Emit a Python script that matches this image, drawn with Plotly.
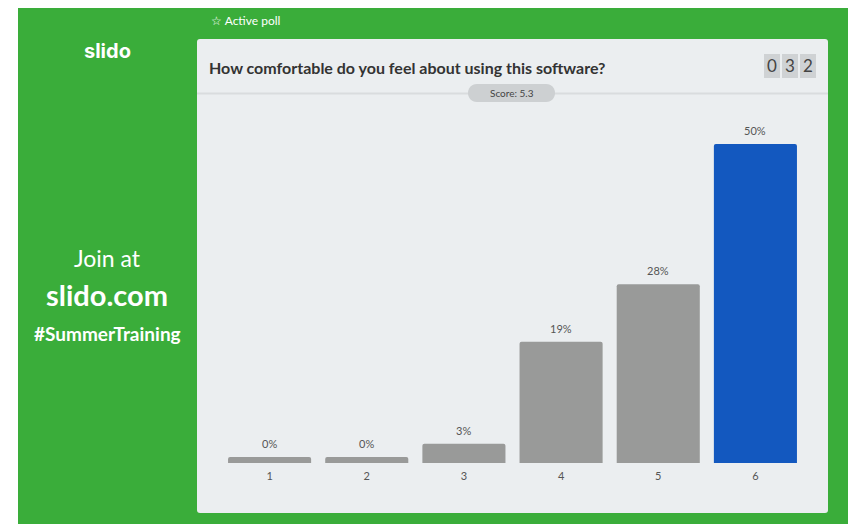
import plotly.graph_objects as go

# ---- data ----
categories = ["1", "2", "3", "4", "5", "6"]
percentages = [0, 0, 3, 19, 28, 50]
percent_labels = ["0%", "0%", "3%", "19%", "28%", "50%"]
title_text = "How comfortable do you feel about using this software?"
score_text = "Score: 5.3"
counter_digits = ["0", "3", "2"]

# page body has an 8px margin; figure is sized to fill the rest of the window
OFF = 8
W, H = 856 - OFF, 524 - OFF
GREEN = "#3aad3a"
PANEL = "#ebeef0"
GRAY_BAR = "#999a99"
BLUE_BAR = "#1358bf"
MIN_VISIBLE = 0.95  # minimal visible stub for empty options

top = max(percentages)
bar_colors = [BLUE_BAR if v == top else GRAY_BAR for v in percentages]
display = [max(v, MIN_VISIBLE) for v in percentages]

def px(x):
    return (x - OFF) / W

def py(y):
    return 1 - (y - OFF) / H

fig = go.Figure()
fig.add_trace(go.Bar(
    x=categories, y=display,
    marker=dict(color=bar_colors, line=dict(width=0), cornerradius=2),
    hoverinfo="skip", width=0.855,
))

y_range_top = 55
ppu = (463 - 144) / 50.0
plot_top = 463 - ppu * y_range_top

fig.update_layout(
    width=W, height=H,
    margin=dict(l=0, r=0, t=0, b=0),
    paper_bgcolor="white", plot_bgcolor="rgba(0,0,0,0)",
    showlegend=False,
    xaxis=dict(type="category", domain=[px(221), px(804)], range=[-0.5, len(categories) - 0.5],
               showgrid=False, zeroline=False,
               showline=False, ticks="", ticklabelstandoff=5,
               tickfont=dict(family="Lato", size=11, color="#555555"),
               fixedrange=True),
    yaxis=dict(domain=[py(463), py(plot_top)], range=[0, y_range_top], visible=False,
               fixedrange=True),
    font=dict(family="Lato"),
)

shapes = []
shapes.append(dict(type="rect", xref="paper", yref="paper", layer="below",
                   x0=px(18), x1=1, y0=0, y1=py(3), fillcolor=GREEN, line=dict(width=0)))
shapes.append(dict(type="path", xref="paper", yref="paper", layer="below",
                   path=(f"M {px(200)},{py(39)} L {px(825)},{py(39)} Q {px(828)},{py(39)} {px(828)},{py(42)} "
                         f"L {px(828)},{py(510)} Q {px(828)},{py(513)} {px(825)},{py(513)} "
                         f"L {px(200)},{py(513)} Q {px(197)},{py(513)} {px(197)},{py(510)} "
                         f"L {px(197)},{py(42)} Q {px(197)},{py(39)} {px(200)},{py(39)} Z"),
                   fillcolor=PANEL, line=dict(width=0)))
shapes.append(dict(type="line", xref="paper", yref="paper", layer="below",
                   x0=px(197), x1=px(828), y0=py(93.5), y1=py(93.5),
                   line=dict(color="#d9dcde", width=2)))
shapes.append(dict(type="path", xref="paper", yref="paper", layer="below",
                   path=(f"M {px(477)},{py(84)} L {px(546)},{py(84)} "
                         f"C {px(558)},{py(84)} {px(558)},{py(102)} {px(546)},{py(102)} "
                         f"L {px(477)},{py(102)} "
                         f"C {px(465)},{py(102)} {px(465)},{py(84)} {px(477)},{py(84)} Z"),
                   fillcolor="#cdd0d2", line=dict(width=0)))
for i in range(len(counter_digits)):
    x0 = 764 + i * 18
    shapes.append(dict(type="rect", xref="paper", yref="paper", layer="below",
                       x0=px(x0), x1=px(x0 + 16), y0=py(78), y1=py(54),
                       fillcolor="#cfd2d4", line=dict(width=0)))
fig.update_layout(shapes=shapes)

ann = []
# value labels above bars, from the data (x given as category index)
for i, (v, lab) in enumerate(zip(display, percent_labels)):
    ann.append(dict(xref="x", yref="y", x=i, y=v, text=lab, showarrow=False,
                    xanchor="center", yanchor="bottom", yshift=5,
                    font=dict(family="Lato", size=11, color="#555555")))

def text(x, y, s, size, color="white", bold=False, anchor="center", family="Lato"):
    ann.append(dict(xref="paper", yref="paper", x=px(x), y=py(y), text=(f"<b>{s}</b>" if bold else s),
                    showarrow=False, xanchor=anchor, yanchor="middle",
                    font=dict(family=family, size=size, color=color)))

text(209, 20, "☆ Active poll", 12, anchor="left")
text(107, 51, "slido", 20, bold=True, family="Inter")
text(107, 258, "Join at", 23)
text(107, 294, "slido.com", 29, bold=True)
text(107, 333, "#SummerTraining", 19, bold=True)
text(207, 68, title_text, 16, color="#333333", bold=True, anchor="left")
text(511.5, 93, score_text, 10, color="#444444")
for i, d in enumerate(counter_digits):
    text(772 + i * 18, 66, d, 17, color="#444444")
fig.update_layout(annotations=ann)

fig.write_html("out.html")
